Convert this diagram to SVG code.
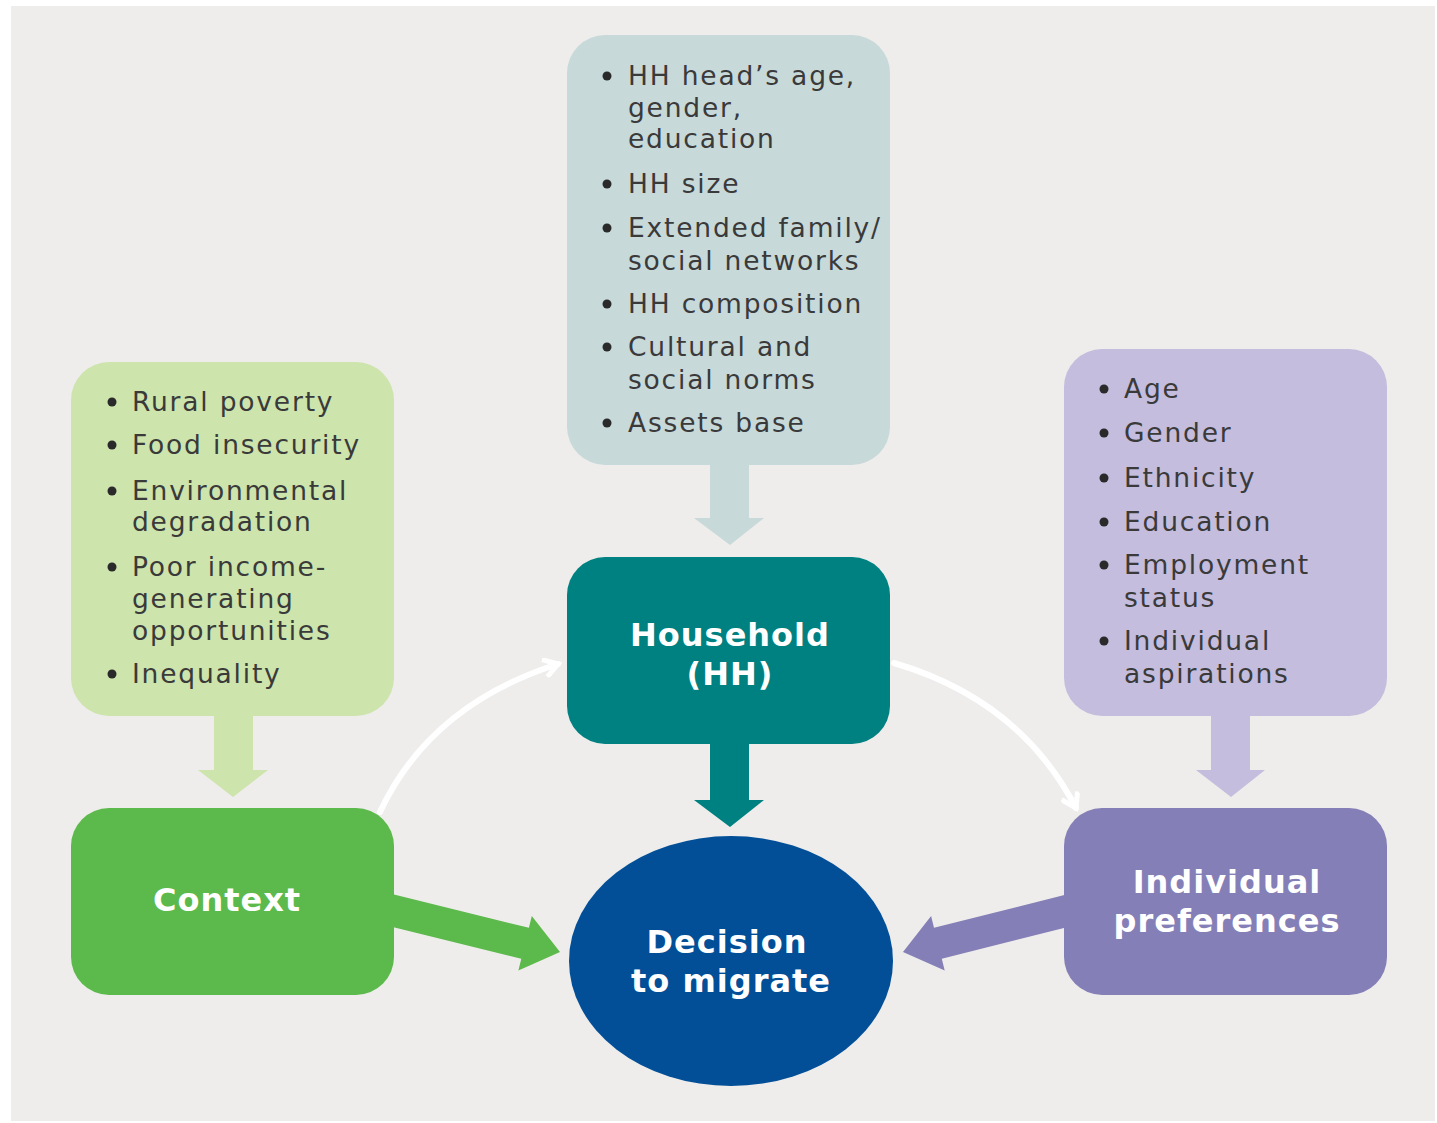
<svg xmlns="http://www.w3.org/2000/svg" width="1437" height="1123" viewBox="0 0 1437 1123">
<defs>
<style>
.list{font-family:"DejaVu Sans","Verdana",sans-serif;font-size:26.5px;fill:#3a3a3a;letter-spacing:1.8px}
.head{font-family:"DejaVu Sans",sans-serif;font-weight:bold;font-size:32px;fill:#ffffff;letter-spacing:1px;text-anchor:middle}
.bul{fill:#2a2a2a}
.curve{fill:none;stroke:#ffffff;stroke-width:6;stroke-linecap:round}
</style>
<marker id="chev" viewBox="0 0 20 20" refX="16" refY="10" markerWidth="20" markerHeight="20" markerUnits="userSpaceOnUse" orient="auto">
<polyline points="2,1 16,10 2,19" fill="none" stroke="#ffffff" stroke-width="5" stroke-linejoin="miter"/>
</marker>
</defs>
<rect x="0" y="0" width="1437" height="1123" fill="#ffffff"/>
<rect x="11" y="6" width="1424" height="1115" fill="#eeedeb"/>

<g id="connectors">
<polygon points="710,455 749,455 749,518 764,518 730,545 694,518 710,518" fill="#c8d9da"/>
<polygon points="710,735 749,735 749,800 764,800 730,827 694,800 710,800" fill="#008181"/>
<polygon points="214,705 253,705 253,770 268,770 233,797 198,770 214,770" fill="#cde4ad"/>
<polygon points="1211,705 1250,705 1250,770 1265,770 1231,797 1196,770 1211,770" fill="#c4bddd"/>
<polygon points="373.8,889.5 528.9,927.8 531.8,916.1 560,952 518.4,970.5 521.3,958.8 366.2,920.5" fill="#5cb94b"/>
<polygon points="1086.1,889.5 934,927.8 931.1,916.1 903,952 944.7,970.5 941.8,958.8 1093.9,920.5" fill="#857fb7"/>
<path class="curve" d="M380,812 Q430,705 558,664" marker-end="url(#chev)"/>
<path class="curve" d="M894,663 Q1020,700 1076,808" marker-end="url(#chev)"/>
</g>

<g id="hh-factors">
<rect x="567" y="35" width="323" height="430" rx="38" fill="#c8d9da"/>
<g class="bul">
<circle cx="607" cy="76" r="4.5"/><circle cx="607" cy="184" r="4.5"/><circle cx="607" cy="228" r="4.5"/>
<circle cx="607" cy="304" r="4.5"/><circle cx="607" cy="347" r="4.5"/><circle cx="607" cy="423" r="4.5"/>
</g>
<text class="list" x="628" y="85">HH head’s age,</text>
<text class="list" x="628" y="117">gender,</text>
<text class="list" x="628" y="148">education</text>
<text class="list" x="628" y="193">HH size</text>
<text class="list" x="628" y="237">Extended family/</text>
<text class="list" x="628" y="270">social networks</text>
<text class="list" x="628" y="313">HH composition</text>
<text class="list" x="628" y="356">Cultural and</text>
<text class="list" x="628" y="389">social norms</text>
<text class="list" x="628" y="432">Assets base</text>
</g>

<g id="context-factors">
<rect x="71" y="362" width="323" height="354" rx="38" fill="#cde4ad"/>
<g class="bul">
<circle cx="112" cy="402" r="4.5"/><circle cx="112" cy="445" r="4.5"/><circle cx="112" cy="491" r="4.5"/>
<circle cx="112" cy="567" r="4.5"/><circle cx="112" cy="674" r="4.5"/>
</g>
<text class="list" x="132" y="411">Rural poverty</text>
<text class="list" x="132" y="454">Food insecurity</text>
<text class="list" x="132" y="500">Environmental</text>
<text class="list" x="132" y="531">degradation</text>
<text class="list" x="132" y="576">Poor income-</text>
<text class="list" x="132" y="608">generating</text>
<text class="list" x="132" y="640">opportunities</text>
<text class="list" x="132" y="683">Inequality</text>
</g>

<g id="individual-factors">
<rect x="1064" y="349" width="323" height="367" rx="38" fill="#c4bddd"/>
<g class="bul">
<circle cx="1104" cy="389" r="4.5"/><circle cx="1104" cy="433" r="4.5"/><circle cx="1104" cy="478" r="4.5"/>
<circle cx="1104" cy="522" r="4.5"/><circle cx="1104" cy="565" r="4.5"/><circle cx="1104" cy="641" r="4.5"/>
</g>
<text class="list" x="1124" y="398">Age</text>
<text class="list" x="1124" y="442">Gender</text>
<text class="list" x="1124" y="487">Ethnicity</text>
<text class="list" x="1124" y="531">Education</text>
<text class="list" x="1124" y="574">Employment</text>
<text class="list" x="1124" y="607">status</text>
<text class="list" x="1124" y="650">Individual</text>
<text class="list" x="1124" y="683">aspirations</text>
</g>

<g id="household">
<rect x="567" y="557" width="323" height="187" rx="38" fill="#008181"/>
<text class="head" x="730" y="646">Household</text>
<text class="head" x="730" y="685">(HH)</text>
</g>

<g id="context">
<rect x="71" y="808" width="323" height="187" rx="38" fill="#5cb94b"/>
<text class="head" x="227" y="911">Context</text>
</g>

<g id="individual">
<rect x="1064" y="808" width="323" height="187" rx="38" fill="#857fb7"/>
<text class="head" x="1227" y="893">Individual</text>
<text class="head" x="1227" y="932">preferences</text>
</g>

<g id="decision">
<ellipse cx="731" cy="961" rx="162" ry="125" fill="#024f98"/>
<text class="head" x="727" y="953">Decision</text>
<text class="head" x="731" y="992">to migrate</text>
</g>
</svg>
